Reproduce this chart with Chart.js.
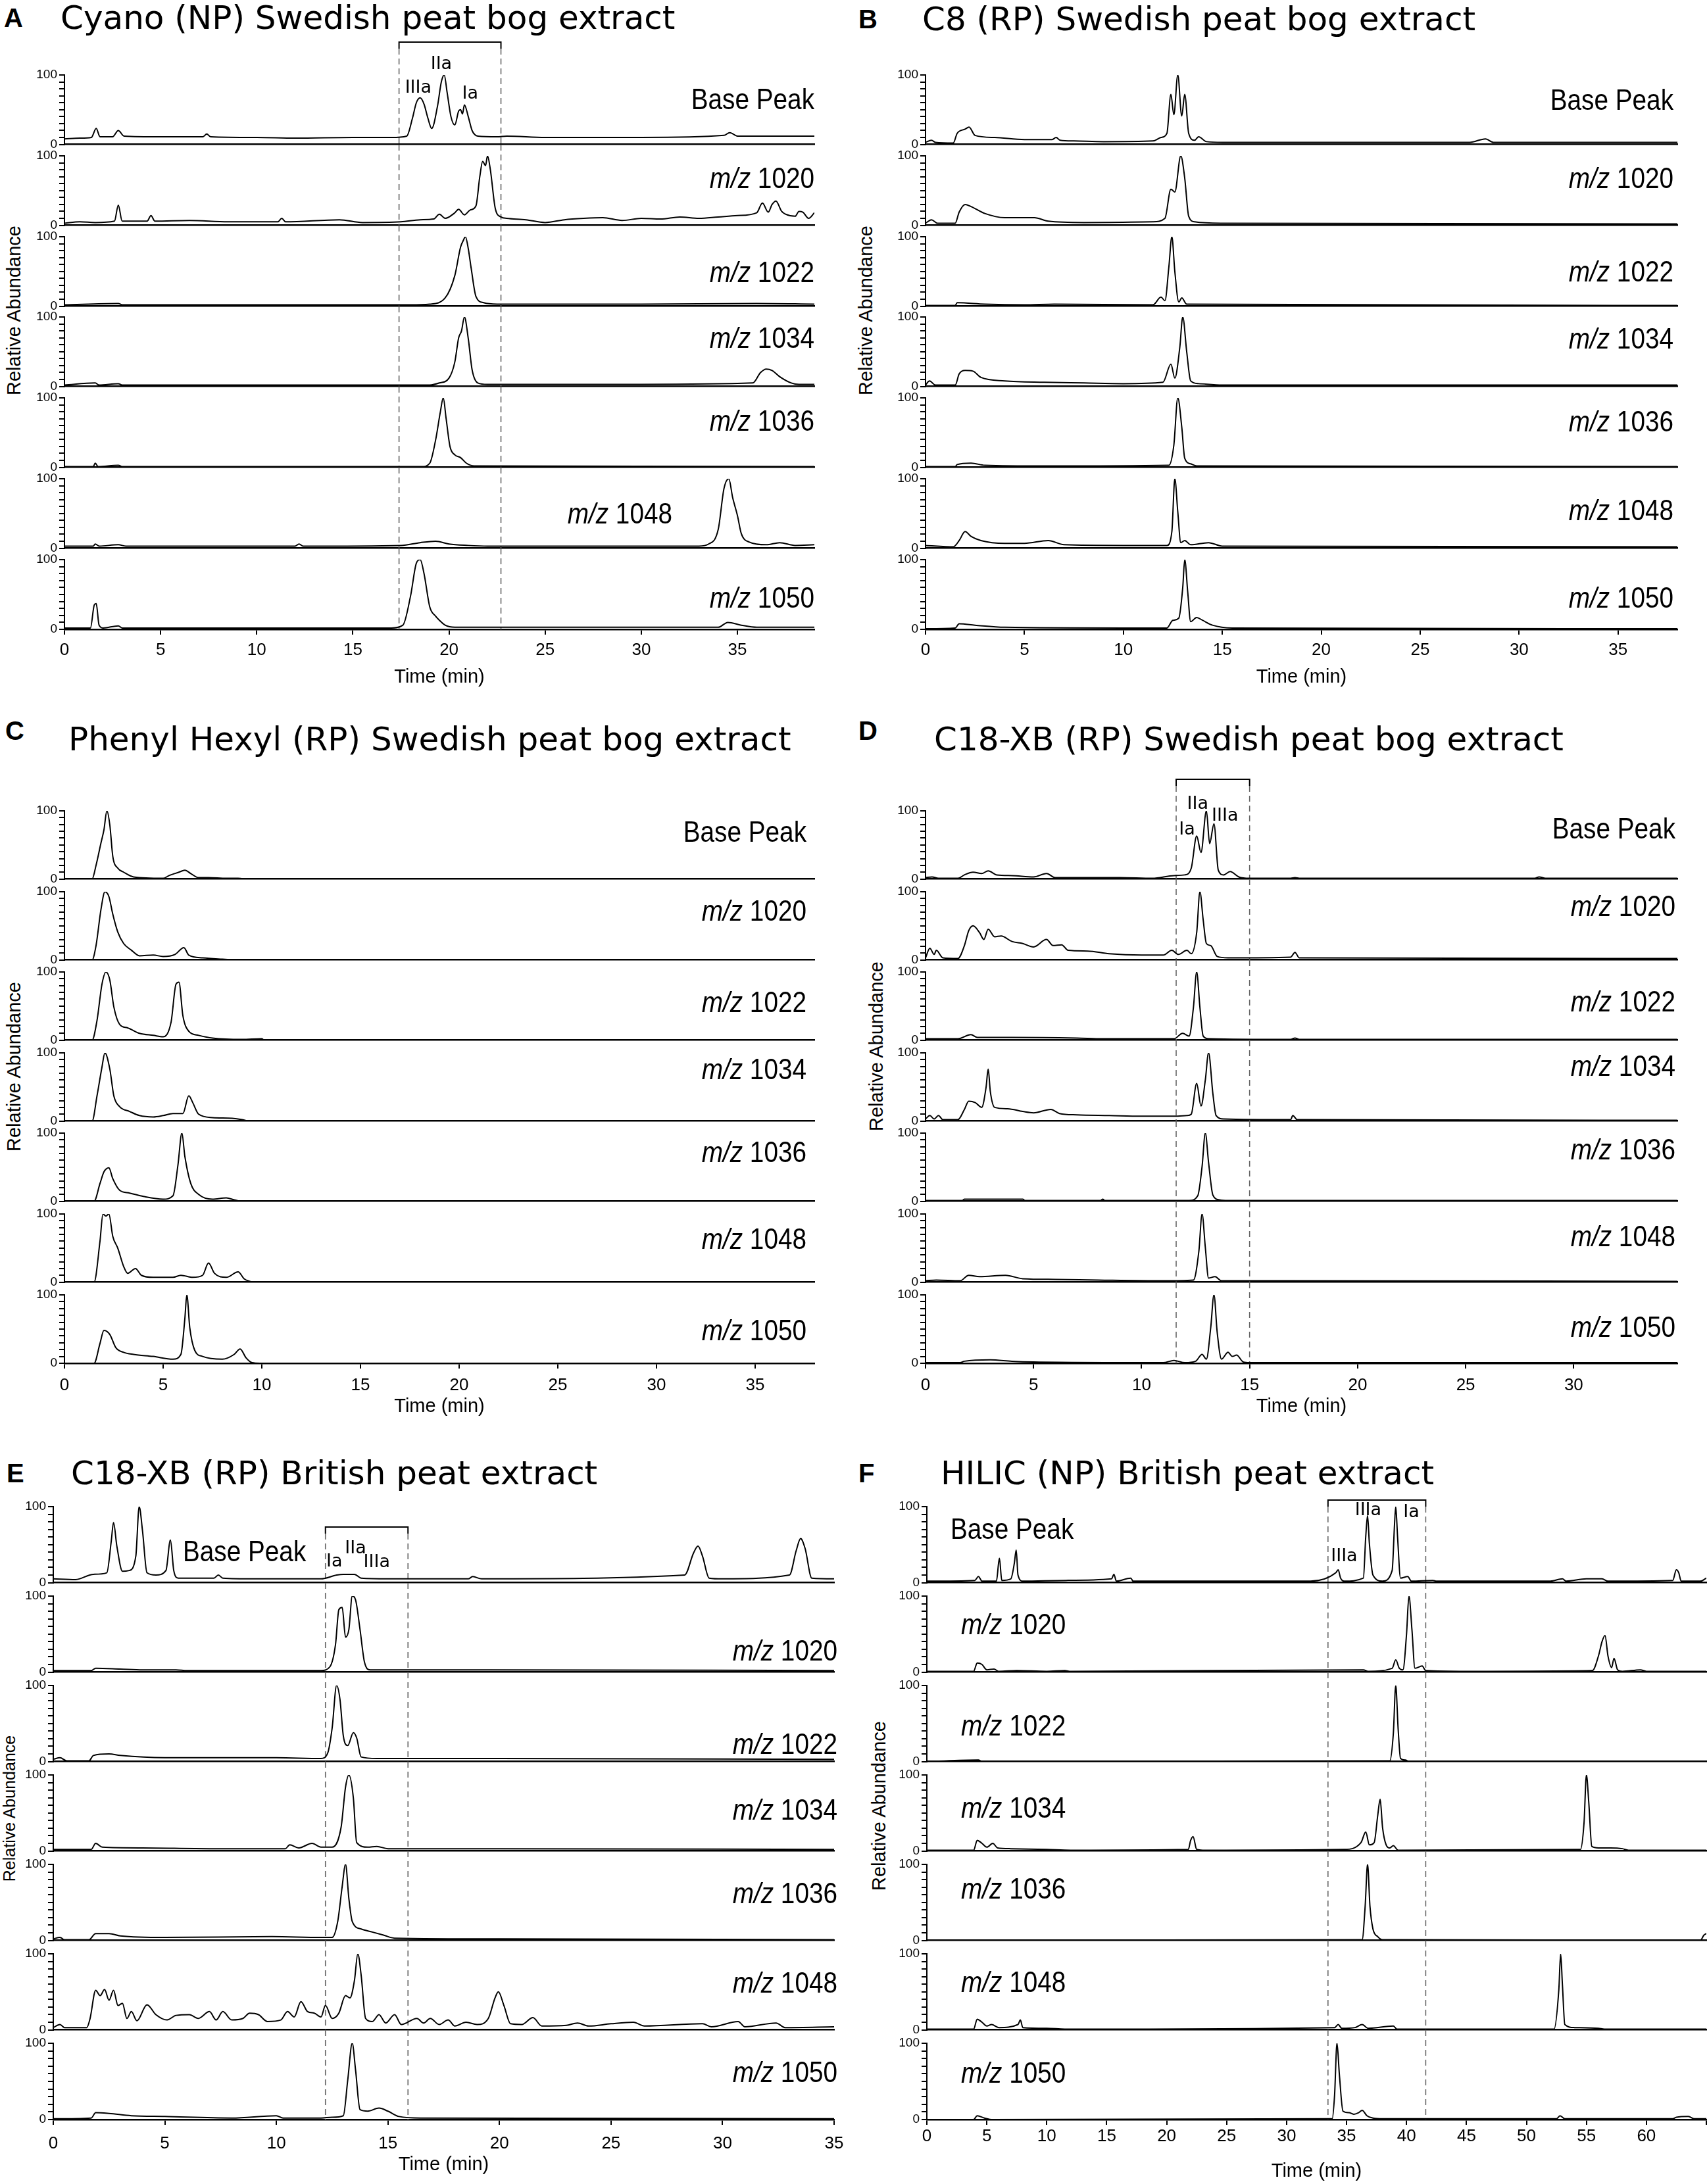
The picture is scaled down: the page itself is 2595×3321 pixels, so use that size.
<!DOCTYPE html>
<html>
<head>
<meta charset="utf-8">
<script src="https://cdn.jsdelivr.net/npm/chart.js"></script>
<style>
  body { margin: 0; width: 2595px; height: 3321px; background: #fff; position: relative; overflow: hidden; }
  canvas { position: absolute; }
  .t { position: absolute; white-space: nowrap; color: #000; line-height: 1; }
  .title { font-family: 'DejaVu Sans', Verdana, sans-serif; font-size: 50px; transform: translateY(-50%); }
  .letter { font-family: 'Liberation Sans', Arial, sans-serif; font-weight: bold; font-size: 40px; transform: translateY(-50%); }
  .ylab { font-family: 'Liberation Sans', Arial, sans-serif; font-size: 29px; transform: translate(-50%, -50%) rotate(-90deg); }
  .trace { font-family: 'Liberation Sans Narrow', 'Liberation Sans', Arial, sans-serif; font-size: 44px; }
  .peak { font-family: 'DejaVu Sans', Verdana, sans-serif; font-size: 27px; transform: translate(-50%, -50%); }
</style>
</head>
<body>
<script>
// ---- data: [time (min), relative abundance] ----
const traceNames = ['Base Peak', 'm/z 1020', 'm/z 1022', 'm/z 1034', 'm/z 1036', 'm/z 1048', 'm/z 1050'];

// A  Cyano (NP)
const cyanoBase = [[0,8],[0.8,9],[1.4,10],[1.65,23],[1.85,11],[2.5,11],[2.8,20],[3.1,12],[5,11],[7.2,11],[7.4,15],[7.6,11],[10,10],[12,9],[15,10],[17,10],[17.8,12],[18.1,38],[18.3,60],[18.5,67],[18.7,58],[18.9,38],[19.1,23],[19.4,55],[19.6,90],[19.75,100],[19.9,75],[20.1,40],[20.3,28],[20.5,48],[20.6,50],[20.7,44],[20.8,57],[21.0,40],[21.2,20],[21.5,12],[22.5,11],[23,12],[25,10],[30,10],[34.3,13],[34.6,17],[35,12],[39,12]];
const cyanoMz1020 = [[0,3],[0.8,5],[1.6,4],[2.6,6],[2.8,29],[3.0,6],[4.3,6],[4.5,14],[4.7,6],[6.5,7],[8.5,5],[11.1,5],[11.3,10],[11.5,5],[14.3,8],[15.5,4],[17.5,5],[18.5,8],[19.2,9],[19.5,16],[19.8,10],[20.3,18],[20.5,23],[20.8,15],[21.1,22],[21.4,28],[21.6,70],[21.75,92],[21.9,86],[22.0,100],[22.15,80],[22.4,25],[22.7,12],[23,10],[24,8],[25,4],[26,8],[27,10],[28,11],[29,7],[30,10],[31,9],[32,12],[33,10],[34,12],[35,14],[36,18],[36.3,32],[36.6,19],[36.8,30],[37.0,35],[37.3,20],[37.5,16],[38.0,13],[38.2,20],[38.4,19],[38.7,10],[39,18]];
const cyanoMz1022 = [[0,2],[2.8,4],[3,2],[10,2],[18,2],[19,3],[19.8,12],[20.3,44],[20.6,85],[20.75,95],[20.85,100],[21.0,83],[21.15,55],[21.4,14],[21.8,5],[22.5,3],[30,3],[36,4],[39,3]];
const cyanoMz1034 = [[0,2],[1.6,5],[1.8,2],[2.8,4],[3,2],[12,2],[19,2],[19.5,5],[20.0,12],[20.3,35],[20.5,70],[20.65,80],[20.8,100],[21.0,69],[21.2,24],[21.5,5],[22,3],[30,3],[35.8,5],[36.2,20],[36.5,25],[36.8,23],[37.2,14],[37.8,5],[38.2,3],[39,3]];
const cyanoMz1036 = [[0,1],[1.5,1],[1.6,6],[1.75,1],[2.8,3],[3,1],[18.6,1],[19.0,6],[19.3,39],[19.55,80],[19.7,100],[19.85,70],[20.05,30],[20.3,18],[20.6,14],[20.9,6],[21.3,2],[39,1]];
const cyanoMz1048 = [[0,3],[1.5,3],[1.6,6],[1.8,3],[2.8,5],[3.2,3],[12.0,3],[12.2,6],[12.4,3],[17.5,4],[18.5,8],[19.3,10],[20,6],[21,4],[22,3],[33,3],[33.5,6],[34.0,27],[34.3,86],[34.55,100],[34.75,73],[35.0,47],[35.2,21],[35.6,9],[36.5,5],[37.2,8],[38,4],[39,5]];
const cyanoMz1050 = [[0,2],[1.35,2],[1.55,35],[1.65,37],[1.8,6],[2.0,2],[2.8,5],[3.0,2],[17.0,2],[17.6,6],[18.0,48],[18.3,95],[18.5,100],[18.7,80],[19.0,32],[19.3,19],[19.5,13],[19.8,6],[20.3,3],[34.0,3],[34.5,10],[35.2,6],[36,3],[39,3]];

// B  C8 (RP)
const c8Base = [[0,3],[0.3,6],[0.5,3],[1.4,2],[1.6,16],[2.0,22],[2.2,25],[2.5,13],[3.5,10],[5,7],[6.4,7],[6.6,10],[6.8,6],[7.5,5],[9,4],[11.5,5],[11.9,10],[12.2,16],[12.4,72],[12.55,43],[12.75,100],[12.95,41],[13.1,72],[13.3,16],[13.6,6],[13.8,11],[14.2,4],[15,3],[27.5,3],[28.3,8],[28.7,3],[38,3]];
const c8Mz1020 = [[0,3],[0.3,8],[0.6,3],[1.5,3],[1.7,19],[2.0,30],[2.3,27],[3.0,17],[4.0,11],[5.5,11],[6.2,6],[8,4],[11.5,5],[12.1,10],[12.4,52],[12.6,48],[12.9,100],[13.1,68],[13.3,13],[13.6,5],[15,3],[38,2]];
const c8Mz1022 = [[0,1],[1.5,1],[1.6,5],[3,3],[5,2],[6.5,3],[11.5,2],[11.9,13],[12.1,8],[12.3,57],[12.45,100],[12.6,50],[12.8,6],[12.95,12],[13.2,3],[38,1]];
const c8Mz1034 = [[0,2],[0.2,8],[0.5,2],[1.5,2],[1.7,18],[2.0,23],[2.4,22],[2.8,13],[4,8],[6,6],[8,5],[10,4],[12.0,6],[12.4,32],[12.6,12],[12.85,56],[13.0,100],[13.2,50],[13.4,8],[13.8,4],[15,2],[38,2]];
const c8Mz1036 = [[0,1],[1.5,1],[1.6,4],[2.3,6],[3,3],[6,2],[12.3,3],[12.55,32],[12.75,100],[12.95,58],[13.1,13],[13.4,5],[13.7,2],[38,1]];
const c8Mz1048 = [[0,4],[1.4,2],[1.7,11],[2.0,24],[2.3,17],[2.8,11],[4,7],[5,7],[6.2,11],[7,5],[10,4],[12.2,4],[12.45,24],[12.6,100],[12.75,52],[12.9,8],[13.1,11],[13.4,5],[14.3,8],[15,3],[38,2]];
const c8Mz1050 = [[0,1],[1.5,2],[1.7,8],[2.5,6],[4,3],[10,2],[12.2,2],[12.5,13],[12.8,16],[13.0,60],[13.1,100],[13.25,54],[13.4,11],[13.7,17],[14.0,13],[14.5,6],[15.5,2],[38,1]];

// C  Phenyl Hexyl (RP)
const phenylBase = [[0,0],[1.4,0],[1.6,20],[1.85,53],[2.0,72],[2.15,100],[2.3,79],[2.45,33],[2.7,16],[3.0,10],[3.5,3],[5.0,1],[5.3,5],[5.8,10],[6.1,13],[6.4,8],[6.8,2],[7.3,2],[8.2,1],[8.8,1],[9.2,0]];
const phenylMz1020 = [[0,0],[1.4,0],[1.6,21],[1.85,74],[2.05,100],[2.25,93],[2.45,67],[2.7,41],[3.0,24],[3.4,14],[3.8,6],[4.5,7],[5.0,5],[5.6,8],[6.05,18],[6.3,7],[7.0,3],[8.0,1],[8.6,0]];
const phenylMz1022 = [[0,0],[1.4,0],[1.65,29],[1.9,82],[2.1,100],[2.3,88],[2.5,49],[2.8,23],[3.2,18],[3.8,10],[4.5,7],[5.0,5],[5.4,26],[5.65,82],[5.8,85],[6.0,36],[6.3,13],[6.8,7],[7.5,3],[9,1],[10,2],[10.1,0]];
const phenylMz1034 = [[0,0],[1.4,0],[1.65,37],[1.9,79],[2.05,100],[2.3,76],[2.5,37],[2.8,21],[3.3,14],[3.8,8],[4.5,6],[5.0,8],[5.5,11],[6.0,11],[6.3,37],[6.5,27],[6.8,10],[7.5,5],[8.5,4],[9.0,2],[9.3,0]];
const phenylMz1036 = [[0,0],[1.5,0],[1.8,26],[2.0,43],[2.25,49],[2.45,33],[2.8,16],[3.3,12],[4.0,7],[5.0,3],[5.5,8],[5.75,53],[5.95,100],[6.1,66],[6.4,26],[6.8,10],[7.5,3],[8.2,5],[8.6,2],[8.9,0]];
const phenylMz1048 = [[0,0],[1.5,0],[1.8,60],[1.95,100],[2.1,97],[2.25,100],[2.45,67],[2.7,50],[3.0,23],[3.2,13],[3.6,20],[3.9,10],[4.5,7],[5.5,7],[5.9,10],[6.5,7],[7.0,10],[7.3,28],[7.6,13],[8.2,7],[8.8,15],[9.1,5],[9.5,0]];
const phenylMz1050 = [[0,0],[1.5,0],[1.8,29],[2.0,48],[2.3,42],[2.6,23],[3.0,16],[3.5,13],[4.5,10],[5.5,6],[5.9,13],[6.1,65],[6.2,100],[6.35,52],[6.6,19],[7.0,10],[8.0,6],[8.6,13],[8.9,21],[9.2,8],[9.5,1],[10,0]];

// D  C18-XB (RP), Swedish
const c18Base = [[0,2],[0.3,3],[0.6,1],[1.5,1],[1.8,6],[2.2,10],[2.6,8],[2.9,12],[3.3,6],[4,5],[5.0,3],[5.6,8],[6.0,2],[9,2],[10.5,1],[11.5,5],[12.0,6],[12.3,16],[12.55,63],[12.75,39],[13.0,100],[13.15,52],[13.35,81],[13.55,13],[13.8,6],[14.1,11],[14.5,3],[15,1],[16.9,1],[17.1,2],[17.3,1],[28.2,1],[28.4,3],[28.7,1],[34.8,1]];
const c18Mz1020 = [[0,3],[0.2,17],[0.4,8],[0.5,14],[0.8,3],[1.5,2],[1.8,21],[2.0,43],[2.2,50],[2.5,40],[2.7,30],[2.9,45],[3.2,34],[3.5,35],[4.0,27],[4.5,24],[5.0,19],[5.6,30],[5.9,21],[6.3,22],[6.6,14],[7.5,13],[8.5,9],[10,7],[11.0,7],[11.4,14],[11.7,8],[12.1,14],[12.3,9],[12.55,40],[12.7,100],[12.85,59],[13.0,24],[13.2,21],[13.5,5],[14.0,3],[16.9,4],[17.1,11],[17.3,3],[34.8,2]];
const c18Mz1022 = [[0,2],[1.5,2],[2.1,8],[2.4,4],[4,4],[7,3],[8.2,2],[11.5,2],[11.9,10],[12.2,6],[12.4,48],[12.55,100],[12.7,48],[12.85,6],[13.1,2],[16.9,1],[17.1,3],[17.3,1],[34.8,1]];
const c18Mz1034 = [[0,3],[0.2,8],[0.4,3],[0.6,8],[0.8,2],[1.5,2],[1.8,17],[2.0,29],[2.3,27],[2.6,20],[2.8,49],[2.9,76],[3.0,43],[3.2,20],[3.8,18],[4.5,14],[5.0,12],[5.8,17],[6.2,11],[7,9],[8.5,8],[10,7],[11.5,7],[12.1,8],[12.3,10],[12.55,55],[12.75,22],[12.95,60],[13.1,100],[13.3,40],[13.45,8],[13.8,3],[16.9,2],[17.0,8],[17.2,2],[34.8,1]];
const c18Mz1036 = [[0,1],[1.7,1],[1.8,3],[3,3],[4.5,3],[4.6,1],[8.1,1],[8.2,3],[8.3,1],[12.2,1],[12.6,8],[12.8,51],[12.95,100],[13.1,57],[13.3,9],[13.6,2],[14,1],[34.8,1]];
const c18Mz1048 = [[0,2],[0.5,3],[1.6,2],[2.0,10],[2.5,8],[3.7,10],[4.5,5],[6,4],[8,3],[11,2],[12.4,3],[12.65,45],[12.8,100],[12.95,51],[13.1,6],[13.4,8],[13.7,2],[17,2],[34.8,1]];
const c18Mz1050 = [[0,1],[1.6,1],[1.8,3],[3.0,5],[4,3],[5,2],[11,1],[11.5,4],[12.0,1],[12.5,3],[12.8,13],[13.0,6],[13.2,52],[13.35,100],[13.5,45],[13.7,6],[14.0,16],[14.2,10],[14.4,12],[14.7,2],[15,1],[34.8,1]];

// E  C18-XB (RP), British
const britBase = [[0,5],[1.0,4],[1.8,11],[2.4,13],[2.6,55],[2.7,79],[2.85,48],[3.1,15],[3.4,16],[3.7,35],[3.85,100],[4.0,68],[4.2,13],[4.6,10],[5.05,16],[5.25,56],[5.4,16],[5.6,6],[7.2,6],[7.4,10],[7.6,6],[9,5],[12.0,5],[12.7,10],[13.0,11],[13.5,11],[13.8,6],[15,5],[18.6,5],[18.8,8],[19.2,5],[28.3,10],[28.7,39],[28.9,48],[29.1,35],[29.4,6],[30,5],[33.0,10],[33.3,42],[33.5,58],[33.7,45],[34.0,6],[35,5]];
const britMz1020 = [[0,2],[1.7,2],[1.9,5],[3.0,4],[4,3],[5.5,3],[6,2],[12.0,2],[12.4,7],[12.65,36],[12.8,82],[12.95,85],[13.1,46],[13.25,56],[13.4,100],[13.55,95],[13.75,56],[13.95,13],[14.2,3],[19.5,3],[35,2]];
const britMz1022 = [[0,3],[0.3,5],[0.6,1],[1.6,1],[1.8,8],[2.5,10],[3.0,8],[5,5],[10,5],[12.0,4],[12.3,11],[12.5,44],[12.7,100],[12.85,82],[13.0,34],[13.2,21],[13.45,38],[13.6,31],[13.8,6],[14.5,4],[20,4],[35,3]];
const britMz1034 = [[0,2],[1.7,2],[1.9,10],[2.2,5],[4,4],[7,3],[10.4,3],[10.6,8],[11.0,4],[11.6,10],[12.0,5],[12.5,5],[12.9,31],[13.1,84],[13.25,100],[13.45,70],[13.6,11],[14.1,5],[14.5,6],[15,3],[20,3],[35,2]];
const britMz1036 = [[0,2],[0.3,4],[0.5,1],[1.6,1],[1.9,9],[2.5,9],[3.0,6],[5,4],[9.8,5],[12.0,4],[12.5,4],[12.75,25],[12.95,71],[13.1,100],[13.25,55],[13.4,25],[13.8,15],[14.3,11],[14.8,7],[15.3,3],[20,2],[35,1]];
const britMz1048 = [[0,3],[0.3,7],[0.5,3],[1.5,3],[1.65,15],[1.9,52],[2.1,45],[2.3,53],[2.5,39],[2.7,52],[2.9,32],[3.1,35],[3.3,15],[3.5,24],[3.75,12],[4.2,33],[4.6,20],[5.1,13],[5.5,19],[6.1,20],[6.5,15],[7.0,24],[7.3,13],[7.6,24],[8.0,13],[8.5,15],[8.8,22],[9.2,20],[9.6,11],[10.2,13],[10.5,24],[10.8,17],[11.1,37],[11.4,24],[11.7,22],[12.0,17],[12.2,32],[12.5,15],[12.8,22],[13.1,45],[13.3,42],[13.5,65],[13.65,100],[13.8,72],[14.0,15],[14.3,11],[14.6,20],[14.9,9],[15.3,20],[15.6,7],[16.3,15],[16.6,9],[16.9,15],[17.3,7],[17.7,13],[18.0,5],[18.5,10],[19.0,7],[19.5,15],[19.8,42],[19.95,50],[20.2,32],[20.5,8],[21.0,7],[21.5,16],[21.9,5],[23,6],[23.5,9],[24,5],[25.0,8],[26.0,10],[26.5,5],[29.1,8],[29.5,4],[30.7,11],[31.0,4],[32.4,9],[32.8,3],[35,4]];
const britMz1050 = [[0,1],[1.7,2],[1.9,9],[2.5,8],[3.5,5],[5,4],[8,2],[10.0,5],[10.3,2],[12.0,2],[12.5,3],[13.0,5],[13.2,52],[13.4,100],[13.55,65],[13.75,13],[14.1,11],[14.6,15],[15.0,11],[15.5,4],[16.5,2],[35,1]];

// F  HILIC (NP), British
const hilicBase = [[0,2],[4.0,3],[4.3,8],[4.6,2],[5.8,2],[6.05,32],[6.25,3],[7.0,5],[7.3,26],[7.45,43],[7.6,10],[8,2],[11.6,3],[15.4,5],[15.6,11],[15.8,2],[17.0,6],[17.2,2],[22.5,2],[32,2],[34.1,13],[34.3,17],[34.5,6],[34.8,2],[36.4,6],[36.6,61],[36.75,88],[36.9,52],[37.2,10],[38,2],[38.8,16],[39.0,77],[39.1,100],[39.25,61],[39.5,6],[40.1,8],[40.4,2],[42.2,3],[42.5,2],[52,2],[53.0,5],[53.3,2],[55.0,5],[56.3,5],[56.8,2],[62.2,3],[62.5,17],[62.7,13],[62.9,2],[64.5,2],[65,6]];
const hilicMz1020 = [[0,1],[3.9,1],[4.2,12],[4.6,10],[5.0,3],[5.6,4],[6.0,1],[7.5,2],[10,1],[11.5,2],[12,1],[36.4,3],[36.8,1],[38.8,5],[39.1,16],[39.4,5],[39.7,3],[40.0,50],[40.2,100],[40.45,56],[40.7,5],[41.3,8],[41.6,2],[45,1],[55.5,2],[56.0,21],[56.3,40],[56.55,48],[56.8,21],[57.1,6],[57.3,18],[57.6,3],[58,1],[59.5,3],[60,1],[65,1]];
const hilicMz1022 = [[0,0],[4.3,2],[4.6,0],[38.6,1],[38.9,37],[39.1,100],[39.3,43],[39.5,4],[39.9,2],[40.2,0],[65,0]];
const hilicMz1034 = [[0,1],[3.9,1],[4.2,14],[4.6,10],[5.0,5],[5.5,10],[5.9,4],[7,3],[10,2],[12,1],[21.8,2],[22.0,14],[22.2,19],[22.5,2],[23,1],[34.8,2],[36.2,11],[36.6,25],[36.9,8],[37.3,11],[37.6,47],[37.8,68],[38.0,31],[38.3,8],[38.6,4],[38.9,7],[39.3,1],[54.5,2],[54.8,37],[55.0,100],[55.2,63],[55.45,6],[56,4],[57,4],[58,3],[58.5,1],[62,1],[65,1]];
const hilicMz1036 = [[0,0],[36.3,1],[36.55,45],[36.75,100],[36.95,45],[37.2,15],[37.6,5],[38.0,1],[39,1],[64.5,0],[64.8,7],[65,9]];
const hilicMz1048 = [[0,1],[3.9,1],[4.2,14],[4.6,10],[5.0,5],[5.4,7],[6,3],[7.6,7],[7.8,13],[8.0,3],[10,2],[11.5,1],[34.0,3],[34.3,7],[34.6,2],[35.7,3],[36.3,7],[36.8,2],[38.9,5],[39.2,1],[52.3,1],[52.7,53],[52.85,100],[53.0,59],[53.2,7],[54,3],[56,2],[56.5,1],[65,1]];
const hilicMz1050 = [[0,0],[3.9,0],[4.2,5],[4.8,2],[5.5,0],[33.8,1],[34.0,32],[34.2,100],[34.4,59],[34.7,11],[35.2,9],[35.6,7],[36.0,9],[36.3,12],[36.7,5],[37.2,2],[38,1],[52.5,1],[52.8,5],[53.2,1],[62.2,1],[62.5,3],[63.5,4],[64,1],[65,1]];

// ---- layout of the six panels (page pixels) ----
const panels = [
  { letter: 'A', title: 'Cyano (NP) Swedish peat bog extract', letterX: 6, titleX: 92, titleY: 27,
    left: 0, axisX: 98, right: 1238, xMax: 39, labelMax: 35, top: 114, h: 106, pitch: 122.8,
    tickPad: 8, xAxisH: 90, yLab: [21, 472, 29],
    traces: [cyanoBase, cyanoMz1020, cyanoMz1022, cyanoMz1034, cyanoMz1036, cyanoMz1048, cyanoMz1050],
    labelPos: [[39,65,'r'],[39,68,'r'],[39,49,'r'],[39,70,'r'],[39,67,'r'],[31.6,50,'r'],[39,45,'r']],
    bracket: { from: 17.4, to: 22.7, y: 64 },
    peaks: [['IIIa',18.4,84],['IIa',19.6,118],['Ia',21.1,75]] },
  { letter: 'B', title: 'C8 (RP) Swedish peat bog extract', letterX: 1305, titleX: 1402, titleY: 29,
    left: 1295, axisX: 1407, right: 2550, xMax: 38, labelMax: 35, top: 114, h: 106, pitch: 122.8,
    tickPad: 8, xAxisH: 90, yLab: [1316, 472, 29],
    traces: [c8Base, c8Mz1020, c8Mz1022, c8Mz1034, c8Mz1036, c8Mz1048, c8Mz1050],
    labelPos: [[37.8,64,'r'],[37.8,68,'r'],[37.8,50,'r'],[37.8,69,'r'],[37.8,66,'r'],[37.8,55,'r'],[37.8,45,'r']],
    bracket: null, peaks: [] },
  { letter: 'C', title: 'Phenyl Hexyl (RP) Swedish peat bog extract', letterX: 8, titleX: 104, titleY: 1124, letterY: 1111,
    left: 0, axisX: 98, right: 1238, xMax: 38, labelMax: 35, top: 1233, h: 104, pitch: 122.6,
    tickPad: 10, xAxisH: 83, yLab: [21, 1622, 29],
    traces: [phenylBase, phenylMz1020, phenylMz1022, phenylMz1034, phenylMz1036, phenylMz1048, phenylMz1050],
    labelPos: [[37.6,69,'r'],[37.6,72,'r'],[37.6,56,'r'],[37.6,76,'r'],[37.6,72,'r'],[37.6,63,'r'],[37.6,48,'r']],
    bracket: null, peaks: [] },
  { letter: 'D', title: 'C18-XB (RP) Swedish peat bog extract', letterX: 1305, titleX: 1420, titleY: 1124, letterY: 1111,
    left: 1295, axisX: 1407, right: 2550, xMax: 34.8, labelMax: 30, top: 1233, h: 104, pitch: 122.6,
    tickPad: 10, xAxisH: 83, yLab: [1332, 1591, 29],
    traces: [c18Base, c18Mz1020, c18Mz1022, c18Mz1034, c18Mz1036, c18Mz1048, c18Mz1050],
    labelPos: [[34.7,74,'r'],[34.7,79,'r'],[34.7,57,'r'],[34.7,81,'r'],[34.7,76,'r'],[34.7,67,'r'],[34.7,53,'r']],
    bracket: { from: 11.6, to: 15.0, y: 1185 },
    peaks: [['Ia',12.1,75],['IIa',12.6,113],['IIIa',13.86,95]] },
  { letter: 'E', title: 'C18-XB (RP) British peat extract', letterX: 10, titleX: 108, titleY: 2240,
    left: 0, axisX: 81, right: 1268, xMax: 35, labelMax: 35, top: 2291, h: 116, pitch: 136,
    tickPad: 13, xAxisH: 86, yLab: [14, 2750, 25],
    traces: [britBase, britMz1020, britMz1022, britMz1034, britMz1036, britMz1048, britMz1050],
    labelPos: [[5.8,41,'l'],[35.15,28,'r'],[35.15,23,'r'],[35.15,54,'r'],[35.15,62,'r'],[35.15,62,'r'],[35.15,62,'r']],
    bracket: { from: 12.2, to: 15.9, y: 2322 },
    peaks: [['Ia',12.6,30],['IIa',13.55,47],['IIIa',14.5,29]] },
  { letter: 'F', title: 'HILIC (NP) British peat extract', letterX: 1305, titleX: 1430, titleY: 2240,
    left: 1295, axisX: 1409, right: 2594, xMax: 65, labelMax: 60, top: 2291, h: 116, pitch: 136,
    tickPad: 2, xAxisH: 96, yLab: [1336, 2746, 29],
    traces: [hilicBase, hilicMz1020, hilicMz1022, hilicMz1034, hilicMz1036, hilicMz1048, hilicMz1050],
    labelPos: [[1.95,71,'l'],[2.87,63,'l'],[2.87,47,'l'],[2.87,57,'l'],[2.87,68,'l'],[2.87,63,'l'],[2.87,61,'l']],
    bracket: { from: 33.45, to: 41.6, y: 2281 },
    peaks: [['IIIa',34.8,37],['IIIa',36.8,97],['Ia',40.4,95]] }
];

const NARROW = "'Liberation Sans Narrow', 'Liberation Sans', Arial, sans-serif";

function addText(html, x, y, cls, extra) {
  const d = document.createElement('div');
  d.className = 't ' + cls;
  d.innerHTML = html;
  d.style.left = x + 'px';
  d.style.top = y + 'px';
  if (extra) d.style.transform = extra;
  document.body.appendChild(d);
  return d;
}

// dashed retention window and bracket
const windowPlugin = {
  id: 'window',
  beforeDatasetsDraw(chart, args, o) {
    if (!o.bracket) return;
    const { ctx, chartArea } = chart;
    const xs = [chart.scales.x.getPixelForValue(o.bracket.from), chart.scales.x.getPixelForValue(o.bracket.to)];
    const y0 = o.first ? o.bracketY : 0;
    ctx.save();
    ctx.strokeStyle = '#666';
    ctx.lineWidth = 1.6;
    ctx.setLineDash([9, 6]);
    xs.forEach(px => {
      ctx.beginPath();
      ctx.moveTo(px, o.first ? y0 + 10 : 0);
      ctx.lineTo(px, chartArea.bottom);
      ctx.stroke();
    });
    if (o.first) {
      ctx.setLineDash([]);
      ctx.strokeStyle = '#000';
      ctx.lineWidth = 2;
      ctx.beginPath();
      ctx.moveTo(xs[0], y0 + 10);
      ctx.lineTo(xs[0], y0);
      ctx.lineTo(xs[1], y0);
      ctx.lineTo(xs[1], y0 + 10);
      ctx.stroke();
    }
    ctx.restore();
  }
};

panels.forEach(p => {
  addText(p.letter, p.letterX, p.letterY || p.titleY, 'letter');
  addText(p.title, p.titleX, p.titleY, 'title');
  const yl = addText('Relative Abundance', p.yLab[0], p.yLab[1], 'ylab');
  yl.style.fontSize = p.yLab[2] + 'px';

  p.traces.forEach((pts, k) => {
    const rowTop = p.top + k * p.pitch;
    const rowBot = rowTop + p.h;
    const last = k === p.traces.length - 1;
    let cTop;
    if (k === 0) cTop = p.bracket ? Math.min(p.bracket.y, rowTop) - 20 : rowTop - 30;
    else cTop = p.top + (k - 1) * p.pitch + p.h;
    cTop = Math.round(cTop);
    const padTop = Math.round(rowTop) - cTop;
    const xH = last ? p.xAxisH : 14;
    const height = Math.round(rowBot) - cTop + xH;
    const width = p.right + 30 - p.left;

    const cv = document.createElement('canvas');
    cv.width = width;
    cv.height = height;
    cv.style.left = p.left + 'px';
    cv.style.top = cTop + 'px';
    cv.style.width = width + 'px';
    cv.style.height = height + 'px';
    document.body.appendChild(cv);

    const chart = new Chart(cv.getContext('2d'), {
      type: 'line',
      data: {
        datasets: [{
          data: pts.map(([x, y]) => ({ x, y })),
          borderColor: '#000',
          borderWidth: 2,
          pointRadius: 0,
          fill: false,
          cubicInterpolationMode: 'monotone'
        }]
      },
      options: {
        responsive: false,
        animation: false,
        devicePixelRatio: 1,
        events: [],
        layout: { padding: { top: padTop, right: 30, left: 0, bottom: 0 } },
        plugins: {
          legend: { display: false },
          tooltip: { enabled: false },
          window: { bracket: p.bracket, first: k === 0, bracketY: p.bracket ? p.bracket.y - cTop : 0 }
        },
        scales: {
          x: {
            type: 'linear', min: 0, max: p.xMax,
            afterFit: s => { s.height = xH; },
            border: { display: true, color: '#000', width: 2.5 },
            grid: { display: last, drawOnChartArea: false, drawTicks: true, tickLength: 8, color: '#000', lineWidth: 2 },
            ticks: {
              display: last, stepSize: 5, includeBounds: false, autoSkip: false, maxRotation: 0,
              padding: p.tickPad, color: '#000', font: { family: NARROW, size: 26 },
              callback: v => (v <= p.labelMax ? String(v) : '')
            },
            title: { display: last, text: 'Time (min)', color: '#000', font: { family: NARROW, size: 29 }, padding: { top: 0, bottom: 0 } }
          },
          y: {
            min: 0, max: 100,
            afterFit: s => { s.width = p.axisX - p.left; },
            border: { display: true, color: '#000', width: 2 },
            grid: { drawOnChartArea: false, drawTicks: true, tickLength: 8, color: '#000', lineWidth: 2 },
            ticks: {
              stepSize: 10, autoSkip: false, padding: 3, color: '#000', font: { family: NARROW, size: 19 },
              callback: v => (v === 0 || v === 100 ? String(v) : '')
            }
          }
        }
      },
      plugins: [windowPlugin]
    });

    // trace label (condensed look of the original)
    const [lt, lv, al] = p.labelPos[k];
    const name = traceNames[k].startsWith('m/z') ? '<i>m/z</i> ' + traceNames[k].slice(4) : traceNames[k];
    const lx = p.left + chart.scales.x.getPixelForValue(lt);
    const ly = cTop + chart.scales.y.getPixelForValue(lv);
    const lab = addText(name, lx, ly, 'trace',
      al === 'r' ? 'translate(-100%, -50%) scaleX(0.88)' : 'translate(0, -50%) scaleX(0.88)');
    lab.style.transformOrigin = al === 'r' ? 'right center' : 'left center';

    if (k === 0) {
      p.peaks.forEach(([t, px, pv]) => {
        addText(t, p.left + chart.scales.x.getPixelForValue(px), cTop + chart.scales.y.getPixelForValue(pv), 'peak');
      });
    }
  });
});
</script>
</body>
</html>
